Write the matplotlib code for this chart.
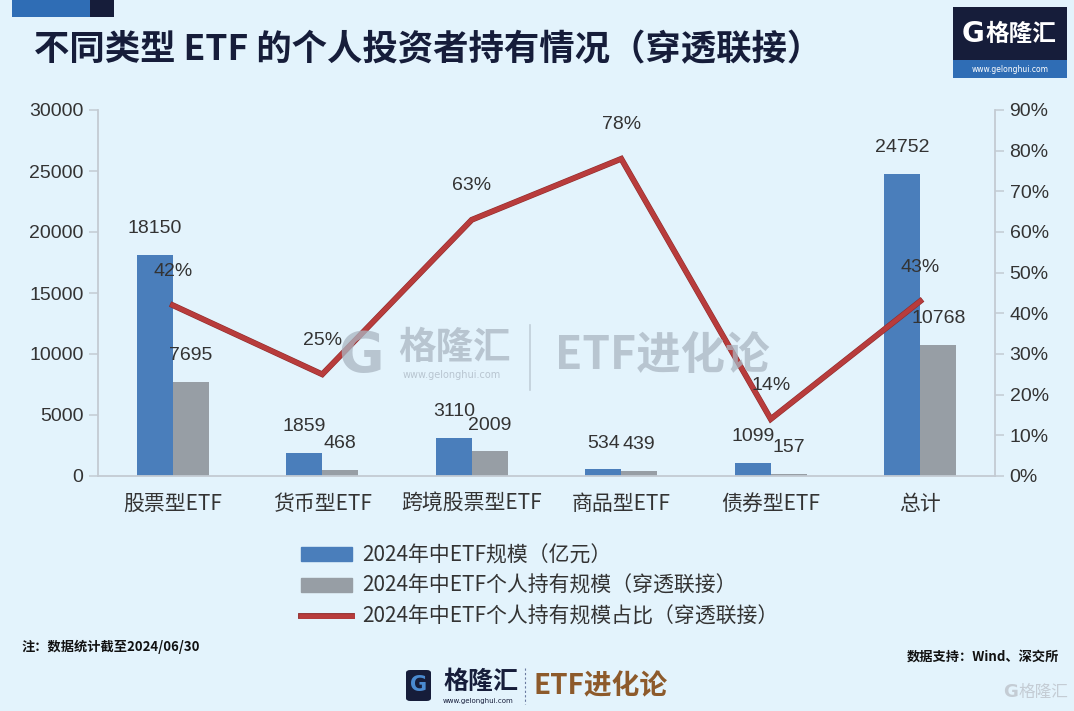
import matplotlib
matplotlib.use("Agg")
import matplotlib.pyplot as plt
import matplotlib.patheffects as pe
from matplotlib.patches import Rectangle, FancyBboxPatch
from matplotlib.lines import Line2D

plt.rcParams["font.family"] = ["Noto Sans CJK SC", "DejaVu Sans"]

categories = ["股票型ETF", "货币型ETF", "跨境股票型ETF", "商品型ETF", "债券型ETF", "总计"]
etf_scale = [18150, 1859, 3110, 534, 1099, 24752]
personal_scale = [7695, 468, 2009, 439, 157, 10768]
personal_ratio = [42, 25, 63, 78, 14, 43]

legend_labels = [
    "2024年中ETF规模（亿元）",
    "2024年中ETF个人持有规模（穿透联接）",
    "2024年中ETF个人持有规模占比（穿透联接）",
]
title = "不同类型 ETF 的个人投资者持有情况（穿透联接）"
note = "注：数据统计截至2024/06/30"
source = "数据支持：Wind、深交所"

BG = "#e3f3fc"
BLUE = "#4a7ebb"
GRAY = "#979ea5"
RED = "#b83c3c"
NAVY = "#161d3a"
TXT = "#333333"
SPINE = "#c3cbd3"
NUMFONT = ["Liberation Sans", "DejaVu Sans"]

W, H = 1074, 711


def fx(x):
    return x / W


def fy(y):
    return 1 - y / H


def main():
    fig = plt.figure(figsize=(W / 100, H / 100), dpi=100, facecolor=BG)
    ax = fig.add_axes([fx(98), fy(476), fx(995) - fx(98), fy(110) - fy(476)])
    ax.set_facecolor("none")
    ax2 = ax.twinx()

    x = list(range(len(categories)))
    bw = 0.24
    b1 = ax.bar([i - bw / 2 for i in x], etf_scale, bw, color=BLUE, zorder=2)
    b2 = ax.bar([i + bw / 2 for i in x], personal_scale, bw, color=GRAY, zorder=2)
    ax.set_xlim(-0.5, len(categories) - 0.5)
    ax.set_ylim(0, 30000)
    ax.set_yticks(range(0, 30001, 5000))
    ax.set_xticks(x)
    ax.set_xticklabels(categories, fontweight="light")

    for bars, vals in ((b1, etf_scale), (b2, personal_scale)):
        for b, v in zip(bars, vals):
            ax.annotate(str(v), (b.get_x() + b.get_width() / 2, v),
                        xytext=(0, 19), textcoords="offset points",
                        ha="center", va="center", fontsize=14, color=TXT,
                        family=NUMFONT, zorder=5)

    ax2.plot(x, personal_ratio, color=RED, lw=3.4, zorder=3,
             solid_joinstyle="miter",
             path_effects=[pe.Stroke(linewidth=4.2, foreground="#8f2b2b"), pe.Normal()])
    ax2.set_ylim(0, 90)
    ax2.set_yticks(range(0, 91, 10))
    ax2.set_yticklabels([f"{v}%" for v in range(0, 91, 10)])
    for i, v in zip(x, personal_ratio):
        ax2.annotate(f"{v}%", (i, v), xytext=(0, 24.5), textcoords="offset points",
                     ha="center", va="center", fontsize=14, color=TXT,
                     family=NUMFONT, zorder=5)

    for a in (ax, ax2):
        a.spines["top"].set_visible(False)
        for s in ("left", "right", "bottom"):
            a.spines[s].set_color(SPINE)
            a.spines[s].set_linewidth(1.3)
    ax.spines["right"].set_visible(False)
    ax2.spines["left"].set_visible(False)
    ax2.spines["bottom"].set_visible(False)
    ax.tick_params(axis="y", length=6.5, width=1.1, color=SPINE, pad=4,
                   labelsize=14, labelcolor=TXT)
    ax2.tick_params(axis="y", length=6.5, width=1.1, color=SPINE, pad=4,
                    labelsize=14, labelcolor=TXT)
    ax.tick_params(axis="x", length=0, pad=12, labelsize=15, labelcolor=TXT)
    for t in ax.get_yticklabels() + ax2.get_yticklabels():
        t.set_family(NUMFONT)

    # legend
    handles = [Rectangle((0, 0), 1, 1, color=BLUE), Rectangle((0, 0), 1, 1, color=GRAY),
               Line2D([], [], color=RED, lw=3.4,
                      path_effects=[pe.Stroke(linewidth=4.2, foreground="#8f2b2b"), pe.Normal()])]
    leg = fig.legend(handles, legend_labels, loc="upper left", bbox_to_anchor=(fx(293), fy(536)),
                     frameon=False, fontsize=15, labelcolor=TXT, handlelength=2.45,
                     handletextpad=0.45, labelspacing=0.42, borderaxespad=0)
    for t in leg.get_texts():
        t.set_fontweight("light")

    # header decoration
    fig.add_artist(Rectangle((fx(12), fy(17)), fx(90) - fx(12), fy(0) - fy(17),
                             transform=fig.transFigure, color="#2f6db5", lw=0))
    fig.add_artist(Rectangle((fx(90), fy(17)), fx(114) - fx(90), fy(0) - fy(17),
                             transform=fig.transFigure, color=NAVY, lw=0))
    fig.text(fx(34), fy(50), title, fontsize=25.5, fontweight="bold", color=NAVY,
             ha="left", va="center")

    # top-right logo
    fig.add_artist(Rectangle((fx(953), fy(60)), fx(1067) - fx(953), fy(7) - fy(60),
                             transform=fig.transFigure, color=NAVY, lw=0))
    fig.add_artist(Rectangle((fx(953), fy(78)), fx(1067) - fx(953), fy(60) - fy(78),
                             transform=fig.transFigure, color="#2f6db5", lw=0))
    fig.text(fx(962), fy(34), "G", fontsize=20, fontweight="bold", color="white",
             ha="left", va="center", family="DejaVu Sans")
    fig.text(fx(986), fy(34), "格隆汇", fontsize=17, fontweight="bold", color="white",
             ha="left", va="center")
    fig.text(fx(1010), fy(69), "www.gelonghui.com", fontsize=5.5, color="white",
             ha="center", va="center", family="DejaVu Sans")

    # center watermark
    wm = "#aab6c2"
    fig.text(fx(338), fy(356), "G", fontsize=40, fontweight="bold", color=wm, alpha=0.75,
             ha="left", va="center", family="DejaVu Sans", zorder=1)
    fig.text(fx(398), fy(347), "格隆汇", fontsize=27, fontweight="bold", color=wm, alpha=0.75,
             ha="left", va="center", zorder=1)
    fig.text(fx(452), fy(375), "www.gelonghui.com", fontsize=7, color=wm, alpha=0.75,
             ha="center", va="center", family="DejaVu Sans", zorder=1)
    fig.add_artist(Line2D([fx(530), fx(530)], [fy(325), fy(390)], transform=fig.transFigure,
                          color=wm, alpha=0.6, lw=1.2))
    fig.text(fx(555), fy(356), "ETF进化论", fontsize=32, fontweight="bold", color=wm,
             alpha=0.75, ha="left", va="center", zorder=1)

    # footer
    fig.text(fx(21), fy(647), note, fontsize=9.5, fontweight="bold", color="#111111",
             ha="left", va="center")
    fig.text(fx(1059), fy(657), source, fontsize=9.5, fontweight="bold", color="#111111",
             ha="right", va="center")
    fig.add_artist(FancyBboxPatch((fx(406), fy(701)), fx(431) - fx(406), fy(670) - fy(701),
                                  boxstyle="round,pad=0,rounding_size=0.004",
                                  transform=fig.transFigure, color=NAVY, lw=0))
    fig.text(fx(418.5), fy(685), "G", fontsize=15, fontweight="bold", color="#4a8ad0",
             ha="center", va="center", family="DejaVu Sans")
    fig.text(fx(443), fy(682), "格隆汇", fontsize=18, fontweight="bold", color=NAVY,
             ha="left", va="center")
    fig.text(fx(478), fy(701), "www.gelonghui.com", fontsize=5, color=NAVY,
             ha="center", va="center", family="DejaVu Sans")
    fig.add_artist(Line2D([fx(525), fx(525)], [fy(668), fy(704)], transform=fig.transFigure,
                          color="#6a7aa0", lw=0.8, ls=(0, (2, 2))))
    fig.text(fx(533), fy(686), "ETF进化论", fontsize=20, fontweight="bold", color="#8d5a2b",
             ha="left", va="center")
    fig.text(fx(1003), fy(692), "G", fontsize=13, fontweight="bold", color="#c4ccd4",
             ha="left", va="center", family="DejaVu Sans")
    fig.text(fx(1019), fy(692), "格隆汇", fontsize=12, color="#c4ccd4",
             ha="left", va="center")

    fig.savefig("out.png", dpi=100, facecolor=BG)


if __name__ == "__main__":
    main()
